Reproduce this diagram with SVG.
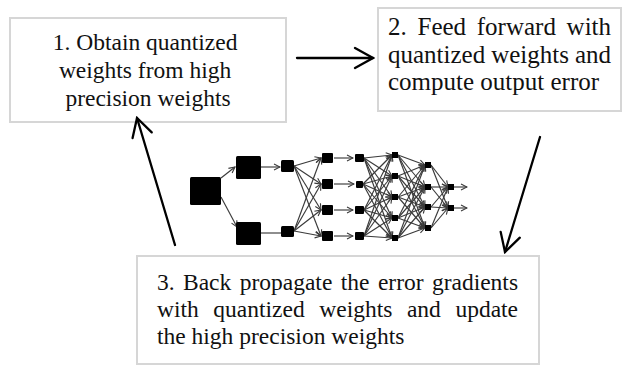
<svg xmlns="http://www.w3.org/2000/svg" width="622" height="365" viewBox="0 0 622 365">
  <style>
    .box { fill: #ffffff; stroke: #d6d6d6; stroke-width: 2; }
    .label { font-family: "Liberation Serif", "Times New Roman", serif; font-size: 23.5px; fill: #111111; }
    .label.big { font-size: 25px; }
    .flow { fill: none; stroke: #000000; stroke-width: 2.3; stroke-linecap: round; }
    .edge { fill: none; stroke: #3a3a3a; stroke-width: 1.15; }
    .unit { fill: #000000; }
  </style>
  <defs>
    <marker id="chevron" markerUnits="userSpaceOnUse" markerWidth="24" markerHeight="24" viewBox="-22 -12 24 24" refX="0" refY="0" orient="auto">
      <path d="M-18,-10 L0,0 L-18,10" fill="none" stroke="#000000" stroke-width="2.3" stroke-linecap="round" stroke-linejoin="miter"/>
    </marker>
    <marker id="tiny" markerUnits="userSpaceOnUse" markerWidth="8" markerHeight="8" viewBox="-7 -4 8 8" refX="0" refY="0" orient="auto">
      <path d="M-6,-3 L0,0 L-6,3" fill="none" stroke="#3a3a3a" stroke-width="1.1"/>
    </marker>
  </defs>

  <!-- step 1 -->
  <g id="box1">
    <rect class="box" x="10" y="18" width="276" height="104"/>
    <text class="label" text-anchor="middle">
      <tspan x="148" y="50">1. Obtain quantized</tspan>
      <tspan x="148" y="78">weights from high</tspan>
      <tspan x="148" y="106">precision weights</tspan>
    </text>
  </g>

  <!-- step 2 -->
  <g id="box2">
    <rect class="box" x="378" y="8" width="243" height="103"/>
    <text class="label big">
      <tspan x="388" y="35">2.</tspan><tspan x="417.5" y="35">Feed</tspan><tspan x="476.8" y="35">forward</tspan><tspan x="566.6" y="35">with</tspan>
      <tspan x="388" y="63">quantized</tspan><tspan x="491.2" y="63">weights</tspan><tspan x="574.9" y="63">and</tspan>
      <tspan x="388" y="90">compute output error</tspan>
    </text>
  </g>

  <!-- step 3 -->
  <g id="box3">
    <rect class="box" x="137" y="256" width="402" height="108"/>
    <text class="label">
      <tspan x="157" y="290">3.</tspan><tspan x="183" y="290">Back</tspan><tspan x="239.7" y="290">propagate</tspan><tspan x="340.8" y="290">the</tspan><tspan x="377.9" y="290">error</tspan><tspan x="431.9" y="290">gradients</tspan>
      <tspan x="157" y="317">with</tspan><tspan x="213.3" y="317">quantized</tspan><tspan x="319.3" y="317">weights</tspan><tspan x="406.9" y="317">and</tspan><tspan x="455.4" y="317">update</tspan>
      <tspan x="157" y="344">the high precision weights</tspan>
    </text>
  </g>

  <!-- small neural network sketch -->
  <g id="network">
    <g class="edges">
      <!-- layer 1 to 2 -->
      <line class="edge" x1="221" y1="178" x2="235" y2="167" marker-end="url(#tiny)"/>
      <line class="edge" x1="221" y1="197" x2="237" y2="227" marker-end="url(#tiny)"/>
      <!-- layer 2 to 3 -->
      <line class="edge" x1="261" y1="167" x2="280" y2="167" marker-end="url(#tiny)"/>
      <line class="edge" x1="261" y1="233" x2="281" y2="233"/>
      <!-- layer 3 to 4 -->
      <line class="edge" x1="294" y1="166" x2="321" y2="158" marker-end="url(#tiny)"/>
      <line class="edge" x1="294" y1="166" x2="321" y2="184" marker-end="url(#tiny)"/>
      <line class="edge" x1="294" y1="166" x2="321" y2="210" marker-end="url(#tiny)"/>
      <line class="edge" x1="294" y1="166" x2="321" y2="236" marker-end="url(#tiny)"/>
      <line class="edge" x1="294" y1="231" x2="321" y2="158" marker-end="url(#tiny)"/>
      <line class="edge" x1="294" y1="231" x2="321" y2="184" marker-end="url(#tiny)"/>
      <line class="edge" x1="294" y1="231" x2="321" y2="210" marker-end="url(#tiny)"/>
      <line class="edge" x1="294" y1="231" x2="321" y2="236" marker-end="url(#tiny)"/>
      <!-- layer 4 to 5 -->
      <line class="edge" x1="334" y1="158" x2="353" y2="158" marker-end="url(#tiny)"/>
      <line class="edge" x1="334" y1="184" x2="354" y2="184" marker-end="url(#tiny)"/>
      <line class="edge" x1="334" y1="210" x2="353" y2="210" marker-end="url(#tiny)"/>
      <line class="edge" x1="334" y1="236" x2="353" y2="236" marker-end="url(#tiny)"/>
      <!-- layer 5 to 6 -->
      <line class="edge" x1="364" y1="158" x2="392" y2="155" marker-end="url(#tiny)"/>
      <line class="edge" x1="364" y1="158" x2="392" y2="176" marker-end="url(#tiny)"/>
      <line class="edge" x1="364" y1="158" x2="392" y2="197" marker-end="url(#tiny)"/>
      <line class="edge" x1="364" y1="158" x2="392" y2="218" marker-end="url(#tiny)"/>
      <line class="edge" x1="364" y1="158" x2="392" y2="238" marker-end="url(#tiny)"/>
      <line class="edge" x1="363" y1="184" x2="392" y2="155" marker-end="url(#tiny)"/>
      <line class="edge" x1="363" y1="184" x2="392" y2="176" marker-end="url(#tiny)"/>
      <line class="edge" x1="363" y1="184" x2="392" y2="197" marker-end="url(#tiny)"/>
      <line class="edge" x1="363" y1="184" x2="392" y2="218" marker-end="url(#tiny)"/>
      <line class="edge" x1="363" y1="184" x2="392" y2="238" marker-end="url(#tiny)"/>
      <line class="edge" x1="364" y1="210" x2="392" y2="155" marker-end="url(#tiny)"/>
      <line class="edge" x1="364" y1="210" x2="392" y2="176" marker-end="url(#tiny)"/>
      <line class="edge" x1="364" y1="210" x2="392" y2="197" marker-end="url(#tiny)"/>
      <line class="edge" x1="364" y1="210" x2="392" y2="218" marker-end="url(#tiny)"/>
      <line class="edge" x1="364" y1="210" x2="392" y2="238" marker-end="url(#tiny)"/>
      <line class="edge" x1="364" y1="236" x2="392" y2="155" marker-end="url(#tiny)"/>
      <line class="edge" x1="364" y1="236" x2="392" y2="176" marker-end="url(#tiny)"/>
      <line class="edge" x1="364" y1="236" x2="392" y2="197" marker-end="url(#tiny)"/>
      <line class="edge" x1="364" y1="236" x2="392" y2="218" marker-end="url(#tiny)"/>
      <line class="edge" x1="364" y1="236" x2="392" y2="238" marker-end="url(#tiny)"/>
      <!-- layer 6 to 7 -->
      <line class="edge" x1="398" y1="155" x2="425" y2="165" marker-end="url(#tiny)"/>
      <line class="edge" x1="398" y1="155" x2="425" y2="187" marker-end="url(#tiny)"/>
      <line class="edge" x1="398" y1="155" x2="425" y2="207" marker-end="url(#tiny)"/>
      <line class="edge" x1="398" y1="155" x2="425" y2="228" marker-end="url(#tiny)"/>
      <line class="edge" x1="398" y1="176" x2="425" y2="165" marker-end="url(#tiny)"/>
      <line class="edge" x1="398" y1="176" x2="425" y2="187" marker-end="url(#tiny)"/>
      <line class="edge" x1="398" y1="176" x2="425" y2="207" marker-end="url(#tiny)"/>
      <line class="edge" x1="398" y1="176" x2="425" y2="228" marker-end="url(#tiny)"/>
      <line class="edge" x1="398" y1="197" x2="425" y2="165" marker-end="url(#tiny)"/>
      <line class="edge" x1="398" y1="197" x2="425" y2="187" marker-end="url(#tiny)"/>
      <line class="edge" x1="398" y1="197" x2="425" y2="207" marker-end="url(#tiny)"/>
      <line class="edge" x1="398" y1="197" x2="425" y2="228" marker-end="url(#tiny)"/>
      <line class="edge" x1="398" y1="218" x2="425" y2="165" marker-end="url(#tiny)"/>
      <line class="edge" x1="398" y1="218" x2="425" y2="187" marker-end="url(#tiny)"/>
      <line class="edge" x1="398" y1="218" x2="425" y2="207" marker-end="url(#tiny)"/>
      <line class="edge" x1="398" y1="218" x2="425" y2="228" marker-end="url(#tiny)"/>
      <line class="edge" x1="398" y1="238" x2="425" y2="165" marker-end="url(#tiny)"/>
      <line class="edge" x1="398" y1="238" x2="425" y2="187" marker-end="url(#tiny)"/>
      <line class="edge" x1="398" y1="238" x2="425" y2="207" marker-end="url(#tiny)"/>
      <line class="edge" x1="398" y1="238" x2="425" y2="228" marker-end="url(#tiny)"/>
      <!-- layer 7 to 8 -->
      <line class="edge" x1="431" y1="165" x2="448" y2="187" marker-end="url(#tiny)"/>
      <line class="edge" x1="431" y1="165" x2="448" y2="208" marker-end="url(#tiny)"/>
      <line class="edge" x1="431" y1="187" x2="448" y2="187" marker-end="url(#tiny)"/>
      <line class="edge" x1="431" y1="187" x2="448" y2="208" marker-end="url(#tiny)"/>
      <line class="edge" x1="431" y1="207" x2="448" y2="187" marker-end="url(#tiny)"/>
      <line class="edge" x1="431" y1="207" x2="448" y2="208" marker-end="url(#tiny)"/>
      <line class="edge" x1="431" y1="228" x2="448" y2="187" marker-end="url(#tiny)"/>
      <line class="edge" x1="431" y1="228" x2="448" y2="208" marker-end="url(#tiny)"/>
      <!-- outputs -->
      <line class="edge" x1="454" y1="187" x2="467" y2="187" marker-end="url(#tiny)"/>
      <line class="edge" x1="454" y1="208" x2="467" y2="208" marker-end="url(#tiny)"/>
    </g>
    <g class="units">
      <rect class="unit" x="190" y="177" width="31" height="28" rx="1.5"/>
      <rect class="unit" x="236" y="156" width="25" height="23" rx="1.5"/>
      <rect class="unit" x="236" y="222" width="25" height="23" rx="1.5"/>
      <rect class="unit" x="281" y="160" width="13" height="12" rx="1.5"/>
      <rect class="unit" x="281" y="226" width="13" height="11" rx="1.5"/>
      <rect class="unit" x="322" y="153" width="11" height="10" rx="1"/>
      <rect class="unit" x="322" y="179" width="11" height="10" rx="1"/>
      <rect class="unit" x="322" y="205" width="11" height="10" rx="1"/>
      <rect class="unit" x="322" y="231" width="11" height="10" rx="1"/>
      <rect class="unit" x="355" y="154" width="9" height="8" rx="1"/>
      <rect class="unit" x="356" y="181" width="7" height="7" rx="1"/>
      <rect class="unit" x="355" y="206" width="9" height="8" rx="1"/>
      <rect class="unit" x="355" y="232" width="9" height="8" rx="1"/>
      <rect class="unit" x="392" y="152" width="6" height="6"/>
      <rect class="unit" x="392" y="173" width="6" height="6"/>
      <rect class="unit" x="392" y="194" width="6" height="6"/>
      <rect class="unit" x="392" y="215" width="6" height="6"/>
      <rect class="unit" x="392" y="235" width="6" height="6"/>
      <rect class="unit" x="425" y="162" width="6" height="6"/>
      <rect class="unit" x="425" y="184" width="6" height="6"/>
      <rect class="unit" x="425" y="204" width="6" height="6"/>
      <rect class="unit" x="425" y="225" width="6" height="6"/>
      <rect class="unit" x="448" y="184" width="6" height="6"/>
      <rect class="unit" x="448" y="205" width="6" height="6"/>
    </g>
  </g>

  <!-- cycle arrows between steps -->
  <g id="connectors">
    <line class="flow" x1="297" y1="58" x2="373" y2="58" marker-end="url(#chevron)"/>
    <line class="flow" x1="540" y1="137" x2="505" y2="252" marker-end="url(#chevron)"/>
    <line class="flow" x1="175" y1="245" x2="137" y2="118" marker-end="url(#chevron)"/>
  </g>
</svg>
